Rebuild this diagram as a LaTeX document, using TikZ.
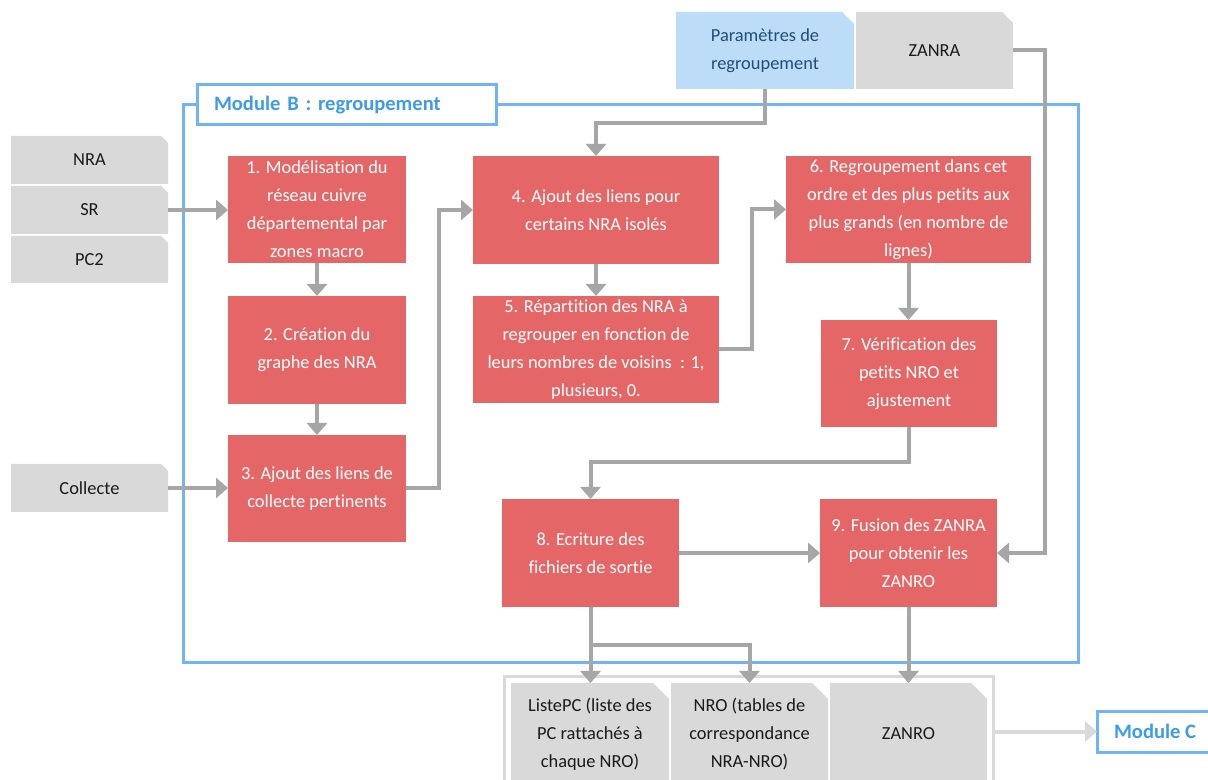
\documentclass[tikz,border=0pt]{standalone}
\usepackage{fontspec}
\setmainfont{Carlito}[Ligatures={NoCommon,NoRequired}]
\usetikzlibrary{arrows.meta}
\definecolor{redb}{HTML}{E56666}
\definecolor{grayb}{HTML}{D9D9D9}
\definecolor{connc}{HTML}{A6A6A6}
\definecolor{blueL}{HTML}{71B4F5}
\definecolor{blueT}{HTML}{3E9BEB}
\definecolor{paramf}{HTML}{BDDCF8}
\definecolor{paramt}{HTML}{1F4E79}
\definecolor{txt}{HTML}{1A1A1A}
\newcommand\fz{\fontsize{13.8}{21}\selectfont}
\newcommand\fzb{\fontsize{15.4}{21}\selectfont\bfseries}
\newcommand\boxat[7]{%
 \pgfmathsetmacro\bcx{(#2+#4)/2}%
 \pgfmathsetmacro\bcy{(#3+#5)/2}%
 \pgfmathsetmacro\bww{(#4-#2)*0.75}%
 \pgfmathsetmacro\bhh{(#5-#3)*0.75}%
 \node[#6, minimum width=\bww pt, minimum height=\bhh pt] (#1) at (\bcx,\bcy) {#7};}
\newcommand\cutbox[9]{%
 \fill[#6] (#2,#3) -- (#4-#7,#3) -- (#4,#3+#7) -- (#4,#5) -- (#2,#5) -- cycle;
 \boxat{#1}{#2}{#3}{#4}{#5}{#8}{#9}}
\begin{document}
\begin{tikzpicture}[x=0.75pt,y=-0.75pt,
  txtnode/.style={inner sep=0pt, outer sep=0pt, align=center, font=\fz},
  redbox/.style={txtnode, fill=redb, text=white},
  graytext/.style={txtnode, text=txt},
  arr/.style={draw=connc, line width=3pt, -{Triangle[width=15pt,length=9pt]}},
  frame/.style={line width=2.25pt, outer sep=0pt, inner sep=0pt}]
\useasboundingbox (0,0) rectangle (1208,780);
\clip (0,0) rectangle (1208,780);
\fill[white] (0,0) rectangle (1208,780);

% Module B frame
\boxat{frameB}{183}{105}{1078}{663}{frame, draw=blueL}{}
\boxat{modB}{197}{85}{496}{125}{frame, draw=blueL, fill=white, text=blueT, font=\fzb, align=left, text width=198.75pt, inner xsep=12.75pt}{Module B : regroupement}

% inputs
\cutbox{nra}{11}{136}{168}{184}{grayb}{7}{graytext}{NRA}
\cutbox{sr}{11}{186}{168}{234}{grayb}{7}{graytext}{SR}
\cutbox{pc}{11}{236}{168}{283}{grayb}{7}{graytext}{PC2}
\cutbox{col}{11}{464}{168}{512}{grayb}{7}{graytext}{Collecte}
\cutbox{par}{676}{12}{854}{89}{paramf}{12}{txtnode, text=paramt}{Paramètres de\\regroupement}
\cutbox{zanra}{856}{12}{1013}{89}{grayb}{11}{graytext}{ZANRA}

% steps
\boxat{b1}{228}{156}{406}{263}{redbox}{1. Modélisation du\\réseau cuivre\\départemental par\\zones macro}
\boxat{b2}{228}{296}{406}{404}{redbox}{2. Création du\\graphe des NRA}
\boxat{b3}{228}{435}{406}{542}{redbox}{3. Ajout des liens de\\collecte pertinents}
\boxat{b4}{473}{156}{719}{264}{redbox}{4. Ajout des liens pour\\certains NRA isolés}
\boxat{b5}{473}{296}{719}{403}{redbox}{5. Répartition des NRA à\\regrouper en fonction de\\leurs nombres de voisins~ : 1,\\plusieurs, 0.}
\boxat{b6}{786}{156}{1031}{263}{redbox}{6. Regroupement dans cet\\ordre et des plus petits aux\\plus grands (en nombre de\\lignes)}
\boxat{b7}{821}{320}{997}{427}{redbox}{7. Vérification des\\petits NRO et\\ajustement}
\boxat{b8}{502}{499}{679}{607}{redbox}{8. Ecriture des\\fichiers de sortie}
\boxat{b9}{820}{499}{997}{607}{redbox}{9. Fusion des ZANRA\\pour obtenir les\\ZANRO}

% outputs
\boxat{outs}{504}{677}{993}{795}{frame, draw=grayb}{}
\cutbox{lp}{511}{683}{669}{785}{grayb}{16}{graytext}{ListePC (liste des\\PC rattachés à\\chaque NRO)}
\cutbox{nro}{671}{683}{828}{785}{grayb}{16}{graytext}{NRO (tables de\\correspondance\\NRA-NRO)}
\cutbox{zanro}{830}{683}{987}{785}{grayb}{16}{graytext}{ZANRO}
\boxat{modC}{1097}{711}{1213}{752}{frame, draw=blueL, fill=white, text=blueT, font=\fzb}{Module C}

% connectors
\draw[arr] (sr.east) -- (sr.east -| b1.west);
\draw[arr] (col.east) -- (col.east -| b3.west);
\draw[arr] (b1.south) -- (b2.north);
\draw[arr] (b2.south) -- (b3.north);
\draw[arr] (b3.east) -- ++(33,0) |- (b4.west);
\draw[arr] (par.south) -- ++(0,34) -| (b4.north);
\draw[arr] (b4.south) -- (b5.north);
\draw[arr] (b5.east) -- ++(33,0) |- (b6.west);
\draw[arr] (b6.south) -- (b6.south |- b7.north);
\draw[arr] (b7.south) -- ++(0,35) -| (b8.north);
\draw[arr] (b8.east) -- (b9.west);
\draw[arr] (zanra.east) -- ++(32,0) |- (b9.east);
\draw[arr] (b8.south) -- (b8.south |- lp.north);
\draw[arr] (b8.south) ++(0,38) -| (nro.north);
\draw[arr] (b9.south) -- (b9.south |- zanro.north);
\draw[arr, draw=grayb] (outs.east |- modC.west) -- (modC.west);
\end{tikzpicture}
\end{document}
